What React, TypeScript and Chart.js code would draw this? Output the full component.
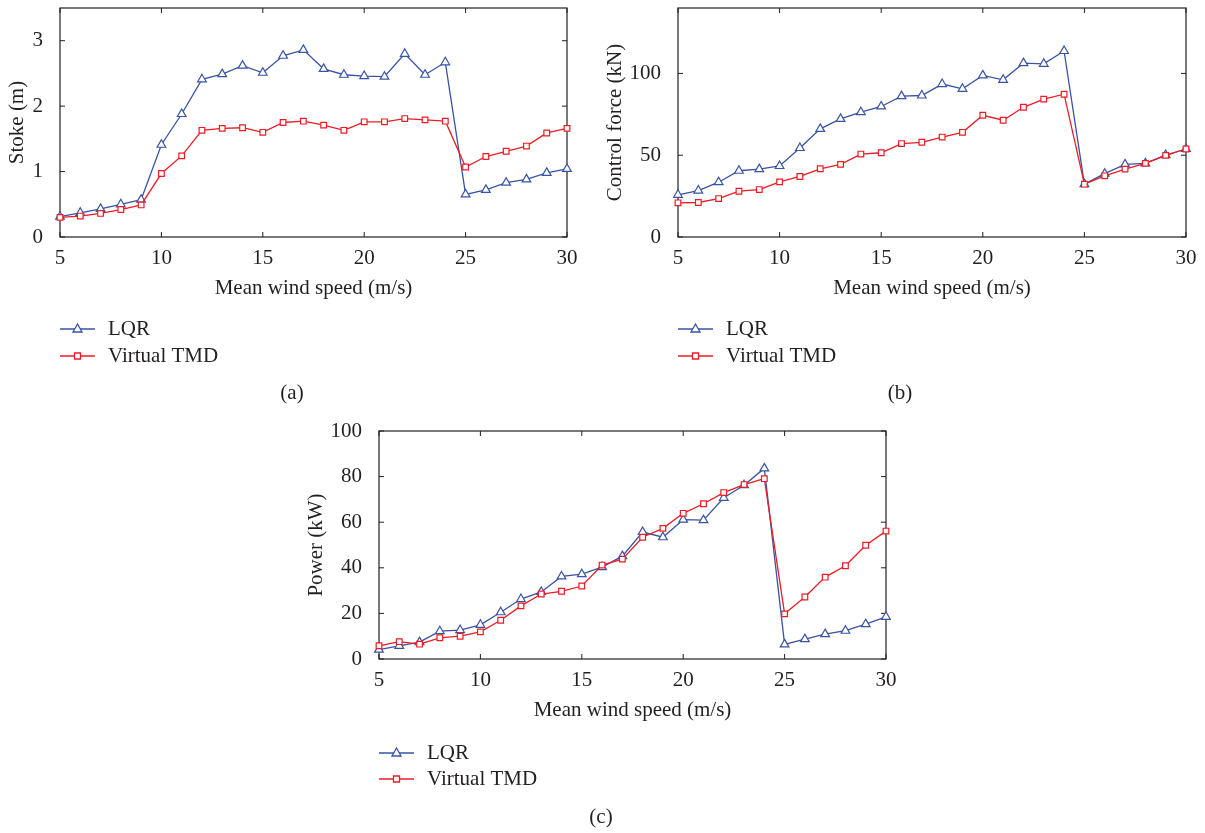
import React, { useEffect, useRef } from 'react';
import { Chart, registerables } from 'chart.js';

Chart.register(...registerables);

// ---------- data ----------
const windSpeed = [5, 6, 7, 8, 9, 10, 11, 12, 13, 14, 15, 16, 17, 18, 19, 20, 21, 22, 23, 24, 25, 26, 27, 28, 29, 30];
const xTicks = [5, 10, 15, 20, 25, 30];
const seriesNames = ['LQR', 'Virtual TMD'];
const xTitle = 'Mean wind speed (m/s)';

const stokeLQR = [0.31, 0.37, 0.43, 0.5, 0.57, 1.41, 1.88, 2.41, 2.49, 2.62, 2.51, 2.77, 2.86, 2.57, 2.48, 2.46, 2.45, 2.8, 2.48, 2.67, 0.65, 0.72, 0.83, 0.88, 0.98, 1.04];
const stokeTMD = [0.3, 0.32, 0.36, 0.42, 0.49, 0.97, 1.24, 1.63, 1.66, 1.67, 1.6, 1.75, 1.77, 1.71, 1.63, 1.76, 1.76, 1.81, 1.79, 1.77, 1.07, 1.23, 1.31, 1.39, 1.59, 1.66];
const stokeTicks = [0, 1, 2, 3];

const forceLQR = [25.8, 28.4, 33.5, 40.5, 41.5, 43.4, 54.4, 66.1, 72.2, 76.3, 79.8, 86.1, 86.5, 93.5, 90.6, 98.8, 96.1, 106.3, 105.9, 113.7, 32.3, 38.7, 44.4, 45.0, 50.1, 53.8];
const forceTMD = [20.9, 21.1, 23.5, 28.0, 29.0, 33.7, 37.0, 41.7, 44.4, 50.7, 51.5, 57.1, 57.9, 61.1, 64.0, 74.4, 71.4, 79.3, 84.3, 87.3, 32.3, 37.4, 41.5, 45.0, 49.9, 53.8];
const forceTicks = [0, 50, 100];

const powerLQR = [4.1, 5.8, 7.4, 12.2, 12.7, 15.0, 20.5, 26.3, 29.4, 36.2, 37.2, 40.3, 45.1, 55.7, 53.4, 61.1, 60.9, 70.7, 76.2, 83.6, 6.4, 8.7, 10.9, 12.4, 15.3, 18.5];
const powerTMD = [5.8, 7.6, 6.5, 9.3, 10.0, 11.9, 17.0, 23.3, 28.5, 29.7, 32.0, 41.2, 43.8, 53.4, 57.3, 63.9, 68.1, 73.0, 76.5, 79.1, 19.8, 27.2, 35.9, 40.9, 49.9, 56.1];
const powerTicks = [0, 20, 40, 60, 80, 100];

// ---------- styles ----------
const FONT_FAMILY = "'Liberation Serif', 'Times New Roman', serif";
const FONT_SIZE = 21;
const TEXT = '#231f20';
const BLUE = '#3953a4';
const RED = '#ed1c24';

const framePlugin = {
  id: 'frame',
  beforeDatasetsDraw(chart: any) {
    const { ctx, chartArea: a, scales } = chart;
    ctx.save();
    ctx.strokeStyle = TEXT;
    ctx.lineWidth = 1.2;
    ctx.strokeRect(a.left, a.top, a.right - a.left, a.bottom - a.top);
    const L = 5;
    ctx.lineWidth = 1;
    ctx.beginPath();
    scales.x.ticks.forEach((t: any) => {
      const px = scales.x.getPixelForValue(t.value);
      ctx.moveTo(px, a.bottom);
      ctx.lineTo(px, a.bottom - L);
      ctx.moveTo(px, a.top);
      ctx.lineTo(px, a.top + L);
    });
    scales.y.ticks.forEach((t: any) => {
      const py = scales.y.getPixelForValue(t.value);
      ctx.moveTo(a.left, py);
      ctx.lineTo(a.left + L, py);
      ctx.moveTo(a.right, py);
      ctx.lineTo(a.right - L, py);
    });
    ctx.stroke();
    ctx.restore();
  },
  afterDraw(chart: any, _args: any, opts: any) {
    const { ctx, chartArea: a } = chart;
    ctx.save();
    ctx.font = `${FONT_SIZE}px ${FONT_FAMILY}`;
    ctx.textBaseline = 'middle';
    ctx.fillStyle = TEXT;
    const rows = [
      { name: seriesNames[0], color: BLUE, shape: 'tri', dy: opts.legendDy[0] },
      { name: seriesNames[1], color: RED, shape: 'sq', dy: opts.legendDy[1] },
    ];
    rows.forEach((r) => {
      const y = a.bottom + r.dy;
      const x0 = a.left;
      const x1 = a.left + 35;
      const xm = (x0 + x1) / 2;
      ctx.strokeStyle = r.color;
      ctx.lineWidth = 1.3;
      ctx.beginPath();
      ctx.moveTo(x0, y);
      ctx.lineTo(x1, y);
      ctx.stroke();
      ctx.fillStyle = '#fff';
      ctx.beginPath();
      if (r.shape === 'tri') {
        ctx.moveTo(xm, y - 5);
        ctx.lineTo(xm + 4.5, y + 3);
        ctx.lineTo(xm - 4.5, y + 3);
        ctx.closePath();
      } else {
        ctx.rect(xm - 3, y - 3, 6, 6);
      }
      ctx.fill();
      ctx.stroke();
      ctx.fillStyle = TEXT;
      ctx.textAlign = 'left';
      ctx.fillText(r.name, a.left + 48, y);
    });
    ctx.textAlign = 'center';
    ctx.fillText(opts.caption, opts.captionX, opts.captionY);
    ctx.restore();
  },
};

type PanelProps = {
  left: number;
  top: number;
  width: number;
  height: number;
  lqr: number[];
  tmd: number[];
  yTicks: number[];
  yMax: number;
  yTitle: string;
  yWidth: number;
  yTitlePad: number;
  xHeight: number;
  padding: { left: number; top: number; right: number; bottom: number };
  caption: string;
  captionX: number;
  captionY: number;
  legendDy: number[];
};

function Panel(p: PanelProps) {
  const ref = useRef<HTMLCanvasElement | null>(null);
  useEffect(() => {
    if (!ref.current) return;
    const font = { family: FONT_FAMILY, size: FONT_SIZE };
    const chart = new Chart(ref.current, {
      type: 'line',
      data: {
        datasets: [
          {
            label: seriesNames[0],
            data: windSpeed.map((x, i) => ({ x, y: p.lqr[i] })),
            borderColor: BLUE,
            backgroundColor: BLUE,
            pointStyle: 'triangle',
            pointRadius: 5,
            pointBorderWidth: 1.2,
            pointBackgroundColor: '#fff',
            pointBorderColor: BLUE,
            borderWidth: 1.3,
            tension: 0,
            clip: false,
            order: 1,
          } as any,
          {
            label: seriesNames[1],
            data: windSpeed.map((x, i) => ({ x, y: p.tmd[i] })),
            borderColor: RED,
            backgroundColor: RED,
            pointStyle: 'rect',
            pointRadius: 4,
            pointBorderWidth: 1.2,
            pointBackgroundColor: '#fff',
            pointBorderColor: RED,
            borderWidth: 1.3,
            tension: 0,
            clip: false,
            order: 0,
          } as any,
        ],
      },
      options: {
        animation: false,
        responsive: false,
        events: [],
        layout: { padding: p.padding },
        plugins: {
          legend: { display: false },
          tooltip: { enabled: false },
          frame: { caption: p.caption, captionX: p.captionX, captionY: p.captionY, legendDy: p.legendDy },
        } as any,
        scales: {
          x: {
            type: 'linear',
            min: 5,
            max: 30,
            afterBuildTicks: (s: any) => {
              s.ticks = xTicks.map((v) => ({ value: v }));
            },
            afterFit: (s: any) => {
              s.height = p.xHeight;
              s.paddingLeft = 0;
              s.paddingRight = 0;
            },
            grid: { display: false },
            border: { display: false },
            ticks: { font, color: TEXT, padding: 1, maxRotation: 0, autoSkip: false },
            title: { display: true, text: xTitle, font, color: TEXT, padding: 0 },
          },
          y: {
            type: 'linear',
            min: 0,
            max: p.yMax,
            afterBuildTicks: (s: any) => {
              s.ticks = p.yTicks.map((v) => ({ value: v }));
            },
            afterFit: (s: any) => {
              s.width = p.yWidth;
              s.paddingTop = 0;
              s.paddingBottom = 0;
            },
            grid: { display: false },
            border: { display: false },
            ticks: { font, color: TEXT, padding: 9, autoSkip: false },
            title: { display: true, text: p.yTitle, font, color: TEXT, padding: { top: p.yTitlePad, bottom: 0 } },
          },
        } as any,
      },
      plugins: [framePlugin],
    });
    return () => chart.destroy();
  }, []);
  return (
    <canvas
      ref={ref}
      width={p.width}
      height={p.height}
      style={{ position: 'absolute', left: p.left, top: p.top, width: p.width, height: p.height }}
    />
  );
}

export default function App() {
  return (
    <div style={{ position: 'absolute', left: 0, top: 0, width: 1205, height: 833, background: '#fff', overflow: 'hidden' }}>
      <Panel
        left={0}
        top={0}
        width={600}
        height={410}
        lqr={stokeLQR}
        tmd={stokeTMD}
        yTicks={stokeTicks}
        yMax={3.5}
        yTitle="Stoke (m)"
        yWidth={60}
        yTitlePad={5}
        xHeight={64}
        padding={{ left: 0, top: 8, right: 33, bottom: 109 }}
        caption="(a)"
        captionX={292}
        captionY={393}
        legendDy={[92, 119]}
      />
      <Panel
        left={600}
        top={0}
        width={605}
        height={410}
        lqr={forceLQR}
        tmd={forceTMD}
        yTicks={forceTicks}
        yMax={140}
        yTitle="Control force (kN)"
        yWidth={78}
        yTitlePad={3}
        xHeight={64}
        padding={{ left: 0, top: 8, right: 19, bottom: 109 }}
        caption="(b)"
        captionX={300}
        captionY={393}
        legendDy={[92, 119]}
      />
      <Panel
        left={300}
        top={420}
        width={600}
        height={413}
        lqr={powerLQR}
        tmd={powerTMD}
        yTicks={powerTicks}
        yMax={100}
        yTitle="Power (kW)"
        yWidth={79}
        yTitlePad={4}
        xHeight={64}
        padding={{ left: 0, top: 11, right: 14, bottom: 110 }}
        caption="(c)"
        captionX={301}
        captionY={397}
        legendDy={[94, 120]}
      />
    </div>
  );
}
